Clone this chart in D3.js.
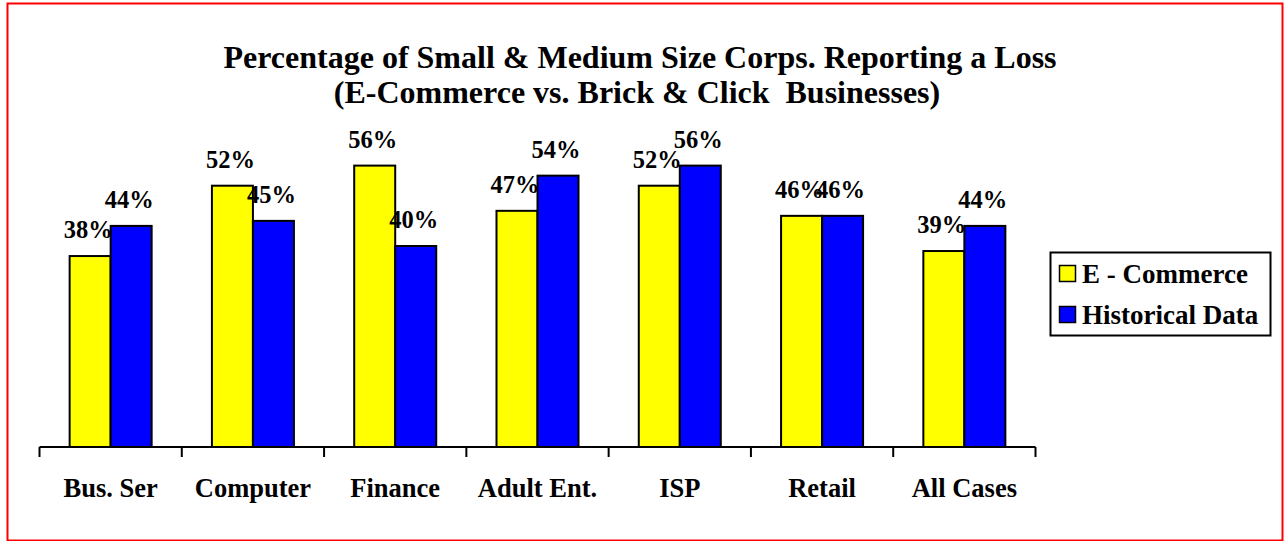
<!DOCTYPE html>
<html>
<head>
<meta charset="utf-8">
<script src="https://cdn.jsdelivr.net/npm/d3@7"></script>
<style>
  html, body { margin: 0; padding: 0; background: #fff; }
  svg { display: block; }
  text { font-family: "Times New Roman", "Liberation Serif", serif; font-weight: bold; fill: #000; }
</style>
</head>
<body>
<svg width="1288" height="541"></svg>
<script>
const categories = ["Bus. Ser", "Computer", "Finance", "Adult Ent.", "ISP", "Retail", "All Cases"];
const seriesNames = ["E - Commerce", "Historical Data"];
const eCommerce = [38, 52, 56, 47, 52, 46, 39];
const historical = [44, 45, 40, 54, 56, 46, 44];
const colors = ["#ffff00", "#0000ff"];

const svg = d3.select("svg");

// red frame
svg.append("rect")
    .attr("x", 7.5).attr("y", 3.5)
    .attr("width", 1275).attr("height", 537)
    .attr("fill", "none")
    .attr("stroke", "#ff0000")
    .attr("stroke-width", 2);

// title
const title = svg.append("text")
    .attr("text-anchor", "middle")
    .style("font-size", "32px");
title.append("tspan").attr("x", 640).attr("y", 68)
    .text("Percentage of Small & Medium Size Corps. Reporting a Loss");
title.append("tspan").attr("x", 637).attr("y", 103)
    .style("white-space", "pre")
    .text("(E-Commerce vs. Brick & Click  Businesses)");

const x0 = d3.scaleBand()
    .domain(categories)
    .range([39.5, 1035.5])
    .padding(0);

const x1 = d3.scaleBand()
    .domain(seriesNames)
    .range([0, x0.bandwidth()])
    .paddingInner(0)
    .paddingOuter(0.735);

const y = d3.scaleLinear()
    .domain([0, 60])
    .range([447, 145.5]);

const rows = categories.map((c, i) => ({
    category: c,
    values: [
        { series: seriesNames[0], value: eCommerce[i], color: colors[0] },
        { series: seriesNames[1], value: historical[i], color: colors[1] }
    ]
}));

const groups = svg.append("g")
    .selectAll("g")
    .data(rows)
    .join("g")
    .attr("transform", d => `translate(${x0(d.category)},0)`);

groups.selectAll("rect")
    .data(d => d.values)
    .join("rect")
    .attr("x", d => x1(d.series))
    .attr("y", d => y(d.value))
    .attr("width", x1.bandwidth())
    .attr("height", d => y(0) - y(d.value))
    .attr("fill", d => d.color)
    .attr("stroke", "#000")
    .attr("stroke-width", 2);

groups.selectAll("text.val")
    .data(d => d.values)
    .join("text")
    .attr("class", "val")
    .attr("x", d => x1(d.series) + x1.bandwidth() / 2 - 2)
    .attr("y", d => y(d.value) - 18)
    .attr("text-anchor", "middle")
    .style("font-size", "24.5px")
    .text(d => d.value + "%");

// category axis with ticks at band edges
const axis = svg.append("g");
axis.append("line")
    .attr("x1", x0.range()[0]).attr("x2", x0.range()[1])
    .attr("y1", y(0)).attr("y2", y(0))
    .attr("stroke", "#000").attr("stroke-width", 2);

const edges = categories.map(c => x0(c)).concat([x0.range()[1]]);
axis.selectAll("line.tick")
    .data(edges)
    .join("line")
    .attr("class", "tick")
    .attr("x1", d => d).attr("x2", d => d)
    .attr("y1", y(0)).attr("y2", y(0) + 10)
    .attr("stroke", "#000").attr("stroke-width", 2);

axis.selectAll("text")
    .data(categories)
    .join("text")
    .attr("x", d => x0(d) + x0.bandwidth() / 2)
    .attr("y", 497)
    .attr("text-anchor", "middle")
    .style("font-size", "26.5px")
    .text(d => d);

// legend
const legend = svg.append("g");
legend.append("rect")
    .attr("x", 1050.5).attr("y", 252.5)
    .attr("width", 220).attr("height", 83)
    .attr("fill", "#fff")
    .attr("stroke", "#000").attr("stroke-width", 2);

const items = legend.selectAll("g")
    .data(seriesNames)
    .join("g")
    .attr("transform", (d, i) => `translate(0,${i * 41})`);

items.append("rect")
    .attr("x", 1059.5).attr("y", 265.5)
    .attr("width", 16).attr("height", 16)
    .attr("fill", (d, i) => colors[i])
    .attr("stroke", "#000").attr("stroke-width", 1.5);

items.append("text")
    .attr("x", 1082)
    .attr("y", 283)
    .style("font-size", "27px")
    .text(d => d);
</script>
</body>
</html>
